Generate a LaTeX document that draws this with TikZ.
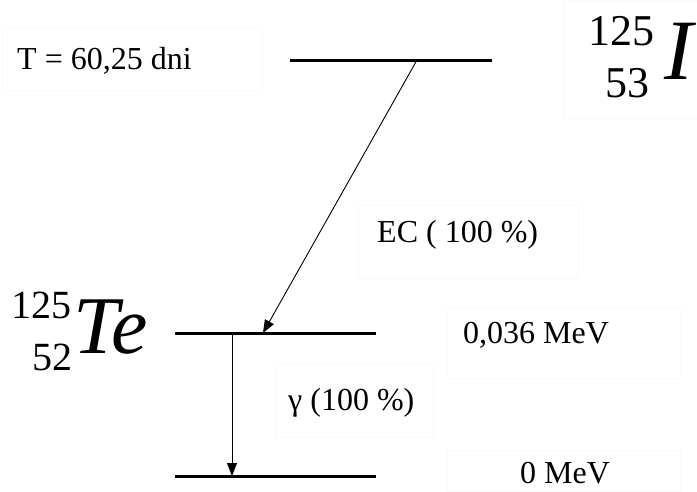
\documentclass[tikz,border=0pt]{standalone}
\usepackage{fontspec}
\setmainfont{Liberation Serif}
\usetikzlibrary{arrows.meta}
\begin{document}
\begin{tikzpicture}[x=1pt,y=-1pt,
  level/.style={line width=3pt},
  trans/.style={line width=0.9pt,-{Triangle[length=13pt,width=10pt]}},
  faint/.style={draw=black!2,line width=0.8pt},
  lbl/.style={inner sep=0pt,anchor=base west,font=\fontsize{32}{38}\selectfont}]
\useasboundingbox (0,0) rectangle (697,491);
% faint text frames
\draw[faint] (2,28) rectangle (262,90);
\draw[faint] (563,0) rectangle (697,118);
\draw[faint] (358,205) rectangle (578,278);
\draw[faint] (447,307) rectangle (680,378);
\draw[faint] (275,363) rectangle (433,437);
\draw[faint] (447,450) rectangle (680,491);
% levels
\coordinate (Il) at (290,60); \coordinate (Ir) at (492,60);
\coordinate (Tl) at (175,333); \coordinate (Tr) at (376,333);
\coordinate (Gl) at (175,476); \coordinate (Gr) at (376,476);
\draw[level] (Il) -- (Ir);
\draw[level] (Tl) -- (Tr);
\draw[level] (Gl) -- (Gr);
% transitions
\coordinate (ecA) at (417,60); \coordinate (ecB) at (263,333);
\coordinate (gA) at (232,333); \coordinate (gB) at (232,476);
\draw[trans] (ecA) -- (ecB);
\draw[trans] (gA) -- (gB);
% labels
\node[lbl] (T) at (17,69) {T = 60,25 dni};
\node[lbl] (ec) at (377,242) {EC ( 100 \%)};
\node[lbl] (e1) at (463,343) {0,036 MeV};
\node[lbl] (g) at (288,410) {γ (100 \%)};
\node[lbl] (e0) at (520,483) {0 MeV};
% iodine
\node[inner sep=0pt,anchor=base west,font=\fontsize{44}{48}\selectfont] (Ia) at (588,45) {125};
\node[inner sep=0pt,anchor=base west,font=\fontsize{44}{48}\selectfont] (Iz) at (605,97) {53};
\node[inner sep=0pt,anchor=base west,font=\fontsize{86}{90}\selectfont\itshape] (Isym) at (664,79) {I};
% tellurium
\node[inner sep=0pt,anchor=base west,font=\fontsize{40}{44}\selectfont] (Ta) at (11,318) {125};
\node[inner sep=0pt,anchor=base west,font=\fontsize{40}{44}\selectfont] (Tz) at (32,370) {52};
\node[inner sep=0pt,anchor=base west,font=\fontsize{82}{86}\selectfont\itshape] (Tsym) at (73,353) {Te};
\end{tikzpicture}
\end{document}
